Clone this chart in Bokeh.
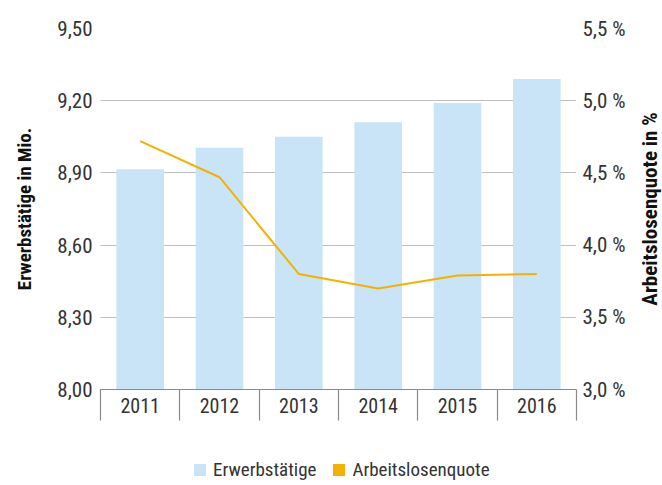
from bokeh.plotting import figure
from bokeh.models import (Range1d, LinearAxis, FixedTicker, CustomJSTickFormatter,
                          Legend, LegendItem, ColumnDataSource, Grid, GridBox)
from bokeh.embed import file_html
from bokeh.resources import INLINE

years = ["2011", "2012", "2013", "2014", "2015", "2016"]
erwerbstaetige = [8.915, 9.005, 9.05, 9.11, 9.19, 9.29]
arbeitslosenquote = [4.72, 4.47, 3.80, 3.70, 3.79, 3.80]
left_ticks = [8.00, 8.30, 8.60, 8.90, 9.20, 9.50]
right_ticks = [3.0, 3.5, 4.0, 4.5, 5.0, 5.5]

FONT = "Roboto Condensed"
BLUE = "#C8E4F6"
ORANGE = "#F5B100"
TXT = "#333333"
AX = "#8a8a8a"

xpos = [i + 0.5 for i in range(len(years))]
src = ColumnDataSource(dict(x=xpos, year=years, e=erwerbstaetige, q=arbeitslosenquote))

p = figure(width=636, height=440, x_range=Range1d(0, len(years)),
           y_range=Range1d(left_ticks[0], left_ticks[-1]),
           output_backend="svg", toolbar_location=None,
           x_axis_location=None, y_axis_location=None,
           min_border_left=100, min_border_right=60, min_border_top=28, min_border_bottom=51)
p.extra_y_ranges = {"r": Range1d(right_ticks[0], right_ticks[-1])}
p.outline_line_color = None
p.grid.visible = False

grid = Grid(dimension=1, ticker=FixedTicker(ticks=left_ticks),
            grid_line_color="#808080", grid_line_dash="1 1", grid_line_width=1)
p.add_layout(grid, "center")

ly = LinearAxis(ticker=FixedTicker(ticks=left_ticks),
                formatter=CustomJSTickFormatter(code="return tick.toFixed(2).replace('.', ',');"),
                axis_label="Erwerbstätige in Mio.",
                axis_line_color=None, major_tick_line_color=None, minor_tick_line_color=None,
                major_tick_out=0, major_tick_in=0,
                major_label_text_font=FONT, major_label_text_font_size="21px",
                major_label_text_color=TXT, major_label_standoff=8,
                axis_label_text_font=FONT, axis_label_text_font_style="bold",
                axis_label_text_font_size="19px", axis_label_text_color="#111111",
                axis_label_standoff=18)
p.add_layout(ly, "left")

ry = LinearAxis(y_range_name="r", ticker=FixedTicker(ticks=right_ticks),
                formatter=CustomJSTickFormatter(code="return tick.toFixed(1).replace('.', ',') + ' %';"),
                axis_line_color=None, major_tick_line_color=None, minor_tick_line_color=None,
                major_tick_out=0, major_tick_in=0,
                major_label_text_font=FONT, major_label_text_font_size="21px",
                major_label_text_color=TXT, major_label_standoff=6)
p.add_layout(ry, "right")

xa = LinearAxis(ticker=FixedTicker(ticks=xpos, minor_ticks=list(range(len(years) + 1))),
                formatter=CustomJSTickFormatter(args=dict(years=years),
                                                code="return years[Math.floor(tick)];"),
                axis_line_color=AX, axis_line_width=1.2,
                major_tick_line_color=None, major_tick_out=0, major_tick_in=0,
                minor_tick_line_color=AX, minor_tick_out=31, minor_tick_in=0, minor_tick_line_width=1.2,
                major_label_text_font=FONT, major_label_text_font_size="20px",
                major_label_text_color=TXT, major_label_standoff=-23)
p.add_layout(xa, "below")

bars = p.vbar(x="x", top="e", bottom=left_ticks[0], width=0.6, source=src,
              fill_color=BLUE, line_color=None)
line = p.line(x="x", y="q", source=src, y_range_name="r", line_color=ORANGE, line_width=2)

# narrow strip carrying the title of the right-hand axis (reads bottom-to-top)
side = figure(width=26, height=440, x_range=Range1d(0, 1),
              y_range=Range1d(right_ticks[0], right_ticks[-1]),
              output_backend="svg", toolbar_location=None,
              x_axis_location=None, y_axis_location=None,
              min_border_left=0, min_border_right=0, min_border_top=28, min_border_bottom=51)
side.outline_line_color = None
side.grid.visible = False
side_axis = LinearAxis(ticker=FixedTicker(ticks=[]), axis_label="Arbeitslosenquote in %",
                       axis_line_color=None, major_tick_line_color=None, minor_tick_line_color=None,
                       major_tick_out=0, major_tick_in=0, major_label_standoff=0,
                       major_label_text_font_size="0px",
                       axis_label_text_font=FONT, axis_label_text_font_style="bold",
                       axis_label_text_font_size="21px", axis_label_text_color="#111111",
                       axis_label_standoff=1)
side.add_layout(side_axis, "left")

# legend strip (same series, drawn hidden only to supply the legend swatches)
lg = figure(width=636, height=45, x_range=Range1d(0, len(years)),
            y_range=Range1d(left_ticks[0], left_ticks[-1]),
            output_backend="svg", toolbar_location=None,
            x_axis_location=None, y_axis_location=None, min_border=0)
lg.outline_line_color = None
lg.grid.visible = False
sw_blue = lg.vbar(x=xpos, top=erwerbstaetige, width=0.6, fill_color=BLUE, line_color=None,
                  visible=False)
sw_orange = lg.vbar(x=xpos, top=arbeitslosenquote, width=0.6, fill_color=ORANGE, line_color=None,
                    visible=False)
legend = Legend(items=[LegendItem(label="Erwerbstätige", renderers=[sw_blue]),
                       LegendItem(label="Arbeitslosenquote", renderers=[sw_orange])],
                orientation="horizontal", location=(92, 4),
                margin=0, padding=0, spacing=15, label_standoff=6,
                glyph_width=15, glyph_height=15, label_height=20,
                label_text_font=FONT, label_text_font_size="19px", label_text_color=TXT,
                border_line_color=None, background_fill_alpha=0)
lg.add_layout(legend, "center")

layout = GridBox(children=[(p, 0, 0), (side, 0, 1), (lg, 1, 0)])
open("out.html", "w").write(file_html(layout, INLINE))
